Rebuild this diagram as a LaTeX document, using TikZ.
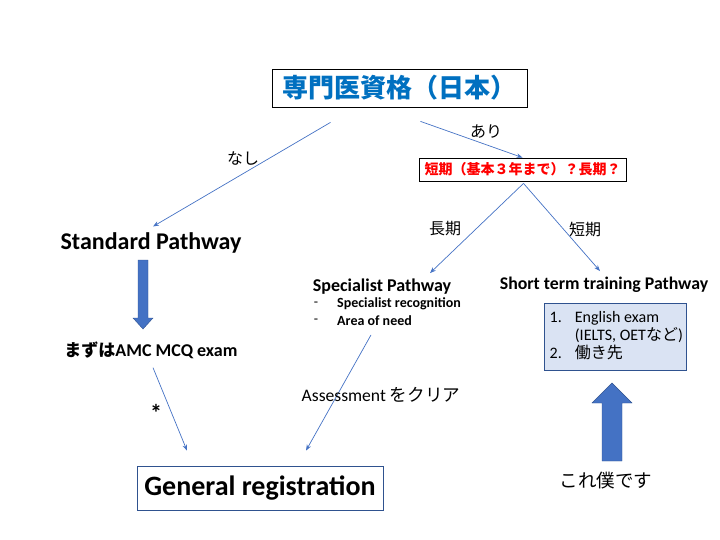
\documentclass[tikz,border=0pt]{standalone}
\usepackage{fontspec}
\setmainfont{Carlito}
\newfontfamily\jp{Noto Sans CJK JP}
\usetikzlibrary{arrows.meta,positioning}
\definecolor{linkblue}{HTML}{4472C4}
\definecolor{titleblue}{HTML}{0070C0}
\definecolor{listfill}{HTML}{DAE3F3}
\definecolor{edgeblue}{HTML}{2F528F}
\newcommand{\fs}[1]{\fontsize{#1}{1.2\dimexpr#1pt\relax}\selectfont}
\tikzset{
  link/.style={draw=linkblue, line width=0.7pt, -{Stealth[length=6pt,width=4.5pt]}},
  bigarrow/.style={fill=linkblue, draw=edgeblue, line width=0.4pt},
  tag/.style={inner sep=1pt, font=\jp\fs{16}},
  heading/.style={inner sep=1pt},
}
\begin{document}
\begin{tikzpicture}[x=1pt,y=-1pt]
\useasboundingbox (0,0) rectangle (720,540);
% boxes:
\node (top) at (399.5,88) [draw, line width=0.8pt, minimum width=255pt, minimum height=38pt, text=titleblue, font=\jp\bfseries\fs{26}] {専門医資格（日本）};
\node (term) at (522.5,169.5) [draw, line width=0.8pt, minimum width=207pt, minimum height=23pt, text=red, font=\jp\bfseries\fs{14}] {短期（基本３年まで）？長期？};
\node (gen) at (260,488) [draw=edgeblue, line width=0.8pt, minimum width=246pt, minimum height=44pt, font=\bfseries\fs{28}] {General registration};
% pathways:
\node (std) at (151,243) [heading, font=\bfseries\fs{24}] {Standard Pathway};
\node (mcq) at (149,350) [heading, font=\bfseries\fs{18}] {{\jp\fs{17} まずは}AMC MCQ exam};
\node (spec) at (382,287) [heading, font=\bfseries\fs{18}] {Specialist Pathway};
\node (rec) at (336,304) [heading, anchor=west, font=\bfseries\fs{14}] {Specialist recognition};
\node (need) at (336,321) [heading, anchor=west, font=\bfseries\fs{14}] {Area of need};
\node (d1) at (316,304) [heading, font=\fs{14}] {-};
\node (d2) at (316,321) [heading, font=\fs{14}] {-};
\node (short) at (604,285) [heading, font=\bfseries\fs{17.8}] {Short term training Pathway};
\node (list) at (544,303) [anchor=north west, draw=edgeblue, fill=listfill, line width=0.6pt, minimum width=142pt, minimum height=67pt, inner sep=0pt, font=\fs{16}, align=left] {%
  \begin{tabular}{@{\hspace{2pt}}l@{\hspace{13pt}}l@{}}
  1. & English exam\\[-1pt]
     & (IELTS, OET{\jp など})\\[-1pt]
  2. & {\jp 働き先}
  \end{tabular}};
\node (me) at (606,481) [tag, font=\jp\fs{18.5}] {これ僕です};
% connectors:
\draw[link] ([shift={(-69,15)}]top.south) -- ([shift={(2,-5)}]std.north);
\draw[link] ([shift={(21,14)}]top.south) -- (term.north);
\draw[link] ([shift={(1,2)}]term.south) -- ([shift={(48,-5)}]spec.north);
\draw[link] ([shift={(1,2)}]term.south) -- ([shift={(-4,-5)}]short.north);
\draw[link] ([shift={(4,8)}]mcq.south) -- ([shift={(-73,-15)}]gen.north);
\draw[link] ([shift={(-11,39)}]spec.south) -- ([shift={(46,-15)}]gen.north);
% labels:
\node (nashi) at (243,158) [tag] {なし};
\node (ari) at (486,132) [tag] {あり};
\node (long) at (445,229) [tag] {長期};
\node (brief) at (585,229) [tag] {短期};
\node (star) at (156,413) [tag, font=\bfseries\fs{24}] {*};
\node (clear) at (381,395) [tag, font=\fs{17.6}] {Assessment {\jp をクリア}};
% block arrows:
\filldraw[bigarrow] (138,260) -- (148,260) -- (148,318) -- (153,318) -- (143,329) -- (133,318) -- (138,318) -- cycle;
\filldraw[bigarrow] (602,461) -- (602,403) -- (592,403) -- (612,383) -- (632,403) -- (622,403) -- (622,461) -- cycle;
\end{tikzpicture}
\end{document}
